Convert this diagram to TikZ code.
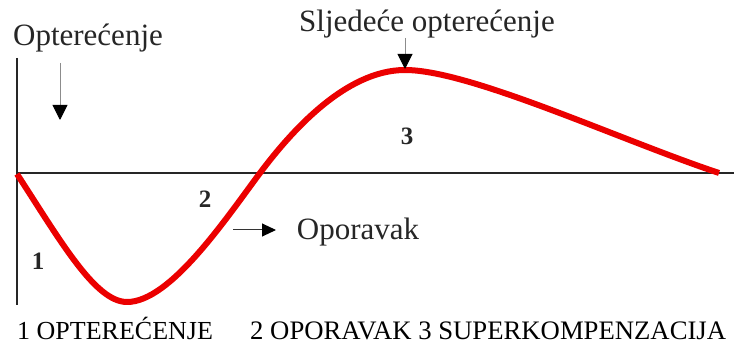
\documentclass[tikz,border=0pt]{standalone}
\usepackage{fontspec}
\setmainfont{Liberation Serif}
\usetikzlibrary{arrows.meta}
\definecolor{curvered}{RGB}{235,0,0}
\tikzset{
  axisline/.style={line width=2.6pt, black!85},
  curveline/.style={line width=6pt, curvered, line join=round},
  lbl/.style={inner sep=0pt, font=\fontsize{31}{33}\selectfont, text=black!85},
  numlbl/.style={inner sep=0pt, font=\fontsize{25}{27}\selectfont\bfseries, text=black!85},
  botlbl/.style={inner sep=0pt, anchor=base west, text=black},
  downarrow/.style={line width=1pt, black!45, -{Triangle[length=15pt,width=15pt,fill=black,color=black]}},
}
\begin{document}
\begin{tikzpicture}[x=1pt,y=-1pt]
\useasboundingbox[fill=white] (0,0) rectangle (734,352);
% axes
\coordinate (o) at (17,173);
\coordinate (ytop) at (17,58);
\coordinate (ybot) at (17,305);
\coordinate (xend) at (734,173);
\draw[axisline] (ytop) -- (ybot);
\draw[axisline] (o) -- (xend);
% curve
\draw[curveline] (17,174) .. controls (60,240) and (95,302) .. (127,302)
  .. controls (170,302) and (225,220) .. (260,173)
  .. controls (290,133) and (345,70) .. (405,70)
  .. controls (470,70) and (620,140) .. (719,173);
% labels
\node[lbl] (opt) at (88,38) {Opterećenje};
\node[lbl] (slj) at (427,24) {Sljedeće opterećenje};
\coordinate (a1s) at (60,63);
\coordinate (a1e) at (60,120);
\draw[downarrow] (a1s) -- (a1e);
\coordinate (a2s) at (405,38);
\coordinate (a2e) at (405,69);
\draw[downarrow] (a2s) -- (a2e);
\node[numlbl] (n1) at (38,261) {1};
\node[numlbl] (n2) at (205,199) {2};
\node[numlbl] (n3) at (407,136) {3};
\node[lbl] (opo) at (358,232) {Oporavak};
\coordinate (a3s) at (233,230);
\coordinate (a3e) at (276,230);
\draw[line width=1pt, black!80, -{Triangle[length=14pt,width=13pt,fill=black,color=black]}] (a3s) -- (a3e);
\node[botlbl, font=\fontsize{26}{28}\selectfont] (b1) at (17,340) {1 OPTEREĆENJE};
\node[botlbl, font=\fontsize{26.7}{28}\selectfont] (b2) at (250,340) {2 OPORAVAK 3 SUPERKOMPENZACIJA};
\end{tikzpicture}
\end{document}
